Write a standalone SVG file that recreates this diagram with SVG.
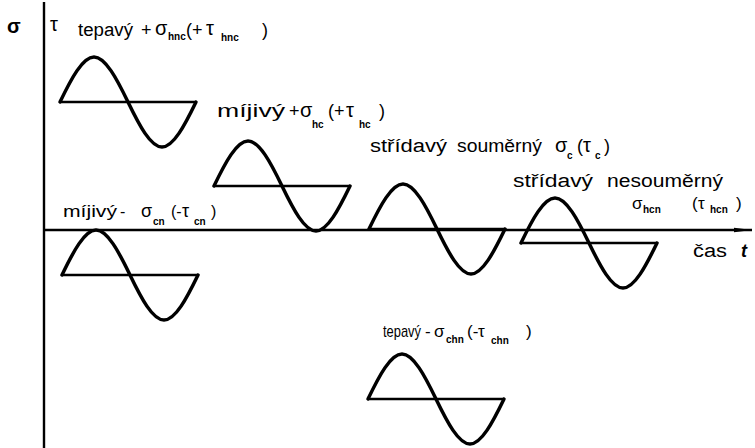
<svg xmlns="http://www.w3.org/2000/svg" width="755" height="448" viewBox="0 0 755 448">
<style>
.t{font-family:"Liberation Sans","DejaVu Sans",sans-serif;font-size:18px;fill:#000}
.m{font-size:16px}
.k{font-size:17px}
.g{font-size:20px}
.s{font-size:10px;font-weight:bold}
.w{fill:none;stroke:#000;stroke-width:3.5;stroke-linecap:round;stroke-linejoin:round}
.b{fill:none;stroke:#000;stroke-width:2.6}
.ax{fill:none;stroke:#000;stroke-width:2.4}
</style>
<defs>
<path id="wave" d="M0,0 C11.1,-23 22.6,-45 34,-45 C45.4,-45 56.9,-23 68,0 C79.1,23 90.6,45 102,45 C113.4,45 124.9,23 136,0"/>
<marker id="arr" markerWidth="20" markerHeight="6" refX="18" refY="3" orient="auto" markerUnits="userSpaceOnUse">
<path d="M0,0.8 L18,3 L0,5.2 Z" fill="#000"/>
</marker>
</defs>
<g id="axes">
<line class="ax" x1="44" y1="2" x2="44" y2="448"/>
<line class="ax" x1="44" y1="230" x2="752" y2="230" marker-end="url(#arr)"/>
<text class="t g" x="7" y="33" font-weight="bold">σ</text>
<text class="t" x="693" y="257" textLength="34" lengthAdjust="spacingAndGlyphs">čas</text>
<text class="t" x="741" y="257" font-style="italic" font-weight="bold">t</text>
</g>
<g id="n1">
<line class="b" x1="60" y1="102" x2="196" y2="102"/>
<use href="#wave" class="w" x="60" y="102"/>
<text class="t"><tspan class="g" x="50" y="31">τ</tspan><tspan x="78" y="36" textLength="55" lengthAdjust="spacingAndGlyphs">tepavý</tspan><tspan x="141" y="36">+</tspan><tspan class="g" x="155" y="35">σ</tspan><tspan class="s" x="168" y="40">hnc</tspan><tspan x="186" y="36">(+</tspan><tspan class="g" x="206" y="35">τ</tspan><tspan class="s" x="221" y="41">hnc</tspan><tspan x="262" y="36">)</tspan></text>
</g>
<g id="n2">
<line class="b" x1="214" y1="186" x2="350" y2="186"/>
<use href="#wave" class="w" x="214" y="186"/>
<text class="t"><tspan x="217" y="117" textLength="68" lengthAdjust="spacingAndGlyphs">míjivý</tspan><tspan x="289" y="117">+</tspan><tspan class="g" x="300" y="117">σ</tspan><tspan class="s" x="312" y="128">hc</tspan><tspan x="328" y="117">(+</tspan><tspan class="g" x="346" y="117">τ</tspan><tspan class="s" x="359" y="128">hc</tspan><tspan x="379" y="117">)</tspan></text>
</g>
<g id="n3">
<line class="b" x1="369" y1="229" x2="505" y2="229"/>
<use href="#wave" class="w" x="369" y="229"/>
<text class="t"><tspan x="370" y="152" textLength="77" lengthAdjust="spacingAndGlyphs">střídavý</tspan><tspan x="457" y="152" textLength="85" lengthAdjust="spacingAndGlyphs">souměrný</tspan><tspan class="g" x="555" y="152">σ</tspan><tspan class="s" x="567" y="159">c</tspan><tspan x="577" y="152">(</tspan><tspan class="g" x="583" y="152">τ</tspan><tspan class="s" x="595" y="159">c</tspan><tspan x="604" y="152">)</tspan></text>
</g>
<g id="n4">
<line class="b" x1="521" y1="243" x2="657" y2="243"/>
<use href="#wave" class="w" x="521" y="243"/>
<text class="t"><tspan x="513" y="187" textLength="80" lengthAdjust="spacingAndGlyphs">střídavý</tspan><tspan x="607" y="187" textLength="116" lengthAdjust="spacingAndGlyphs">nesouměrný</tspan></text>
<text class="t k"><tspan x="632" y="209">σ</tspan><tspan class="s" x="643" y="213">hcn</tspan><tspan x="692" y="209">(</tspan><tspan x="698" y="209">τ</tspan><tspan class="s" x="710" y="213">hcn</tspan><tspan x="736" y="209">)</tspan></text>
</g>
<g id="n5">
<line class="b" x1="62" y1="275" x2="198" y2="275"/>
<use href="#wave" class="w" x="62" y="275"/>
<text class="t m"><tspan x="63" y="217" textLength="54" lengthAdjust="spacingAndGlyphs">míjivý</tspan><tspan x="120" y="217">-</tspan><tspan class="t" x="141" y="217">σ</tspan><tspan class="s" x="153" y="225">cn</tspan><tspan x="171" y="217">(-</tspan><tspan class="t" x="182" y="217">τ</tspan><tspan class="s" x="194" y="225">cn</tspan><tspan x="211" y="217">)</tspan></text>
</g>
<g id="n6">
<line class="b" x1="368" y1="399" x2="504" y2="399"/>
<use href="#wave" class="w" x="368" y="399"/>
<text class="t k"><tspan x="383" y="337" textLength="38" lengthAdjust="spacingAndGlyphs">tepavý</tspan><tspan x="425" y="337">-</tspan><tspan x="434" y="337">σ</tspan><tspan class="s" x="446" y="343">chn</tspan><tspan x="467" y="337">(-</tspan><tspan x="478" y="337">τ</tspan><tspan class="s" x="491" y="344">chn</tspan><tspan x="526" y="337">)</tspan></text>
</g>
</svg>
